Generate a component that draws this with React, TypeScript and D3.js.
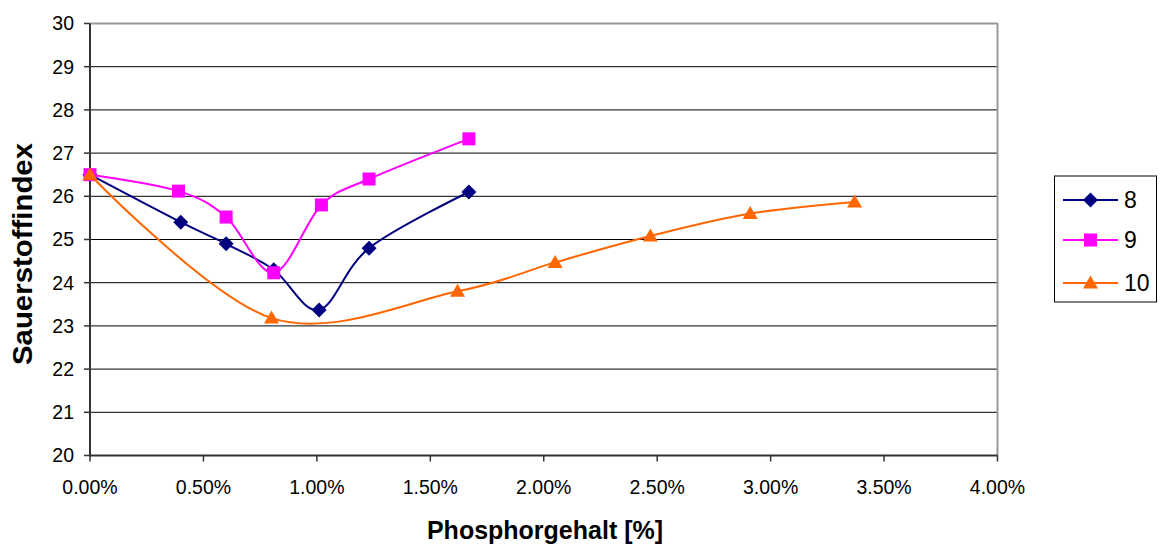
import React from "react";
import * as d3 from "d3";

const xTicks = [0, 0.005, 0.01, 0.015, 0.02, 0.025, 0.03, 0.035, 0.04];
const yTicks = [20, 21, 22, 23, 24, 25, 26, 27, 28, 29, 30];

const s8x = [0, 0.004, 0.006, 0.0081, 0.0101, 0.0123, 0.0167];
const s8y = [26.5, 25.4, 24.9, 24.3, 23.37, 24.8, 26.1];
const s9x = [0, 0.0039, 0.006, 0.0081, 0.0102, 0.0123, 0.0167];
const s9y = [26.5, 26.12, 25.52, 24.23, 25.8, 26.4, 27.33];
const s10x = [0, 0.008, 0.0162, 0.0205, 0.0247, 0.0291, 0.0337];
const s10y = [26.5, 23.18, 23.8, 24.47, 25.08, 25.6, 25.87];

const seriesNames = ["8", "9", "10"];
const seriesColors = ["#000080", "#FF00FF", "#FF6600"];

const FONT = "'Liberation Sans', Arial, sans-serif";

function marker(kind: number, cx: number, cy: number, color: string, key: string) {
  if (kind === 0) {
    const r = 7.5;
    return <path key={key} d={`M${cx},${cy - r}L${cx + r},${cy}L${cx},${cy + r}L${cx - r},${cy}Z`} fill={color} />;
  }
  if (kind === 1) {
    const r = 6.5;
    return <rect key={key} x={cx - r} y={cy - r} width={2 * r} height={2 * r} fill={color} />;
  }
  const w = 7.5;
  return <path key={key} d={`M${cx},${cy - 7.5}L${cx + w},${cy + 5.5}L${cx - w},${cy + 5.5}Z`} fill={color} />;
}

export default function App() {
  const left = 90, right = 997.5, top = 23.5, bottom = 455.5;
  const x = d3.scaleLinear().domain([0, 0.04]).range([left, right]);
  const y = d3.scaleLinear().domain([20, 30]).range([bottom, top]);
  const line = d3
    .line<[number, number]>()
    .x((d) => x(d[0]))
    .y((d) => y(d[1]))
    .curve(d3.curveCardinal.tension(0));

  const series = [
    { xs: s8x, ys: s8y },
    { xs: s9x, ys: s9y },
    { xs: s10x, ys: s10y },
  ];
  const fmt = d3.format(".2%");

  return (
    <svg
      width={1160}
      height={544}
      style={{ position: "absolute", left: 0, top: 0, background: "#fff" }}
      fontFamily={FONT}
    >
      <rect x={0} y={0} width={1160} height={544} fill="#fff" />
      {yTicks.map((t) => (
        <line key={"g" + t} x1={left} x2={right} y1={y(t)} y2={y(t)} stroke="#000" strokeWidth={1} />
      ))}
      <line x1={left} x2={right} y1={top} y2={top} stroke="#999" strokeWidth={2} />
      <line x1={right} x2={right} y1={top} y2={bottom} stroke="#999" strokeWidth={2} />
      <line x1={left} x2={left} y1={top} y2={bottom + 1} stroke="#333" strokeWidth={2} />
      <line x1={left} x2={right} y1={bottom} y2={bottom} stroke="#333" strokeWidth={2} />
      {yTicks.map((t) => (
        <g key={"yt" + t}>
          <line x1={left - 6} x2={left} y1={y(t)} y2={y(t)} stroke="#333" strokeWidth={1.5} />
          <text x={74} y={y(t)} dy="0.35em" textAnchor="end" fontSize={19.5} fill="#000">
            {t}
          </text>
        </g>
      ))}
      {xTicks.map((t) => (
        <g key={"xt" + t}>
          <line x1={x(t)} x2={x(t)} y1={bottom} y2={bottom + 6} stroke="#333" strokeWidth={1.5} />
          <text x={x(t)} y={494} textAnchor="middle" fontSize={19.5} fill="#000">
            {fmt(t)}
          </text>
        </g>
      ))}
      <text x={545} y={539} textAnchor="middle" fontSize={25} fontWeight="bold" fill="#000">
        Phosphorgehalt [%]
      </text>
      <text
        transform={`translate(32,254) rotate(-90)`}
        textAnchor="middle"
        fontSize={27}
        fontWeight="bold"
        fill="#000"
        textLength={222}
        lengthAdjust="spacingAndGlyphs"
      >
        Sauerstoffindex
      </text>
      {series.map((s, i) => {
        const pts: [number, number][] = s.xs.map((v, j) => [v, s.ys[j]]);
        return (
          <g key={"s" + i}>
            <path d={line(pts) || ""} fill="none" stroke={seriesColors[i]} strokeWidth={2} />
            {pts.map((p, j) => marker(i, x(p[0]), y(p[1]), seriesColors[i], `m${i}-${j}`))}
          </g>
        );
      })}
      <rect x={1054.5} y={176} width={102} height={126} fill="#fff" stroke="#000" strokeWidth={1} />
      {seriesNames.map((n, i) => {
        const cy = [200, 240, 283][i];
        return (
          <g key={"l" + i}>
            <line x1={1063} x2={1118} y1={cy} y2={cy} stroke={seriesColors[i]} strokeWidth={2} />
            {marker(i, 1090.5, cy, seriesColors[i], "lm" + i)}
            <text x={1124} y={cy} dy="0.35em" fontSize={23} fill="#000">
              {n}
            </text>
          </g>
        );
      })}
    </svg>
  );
}
